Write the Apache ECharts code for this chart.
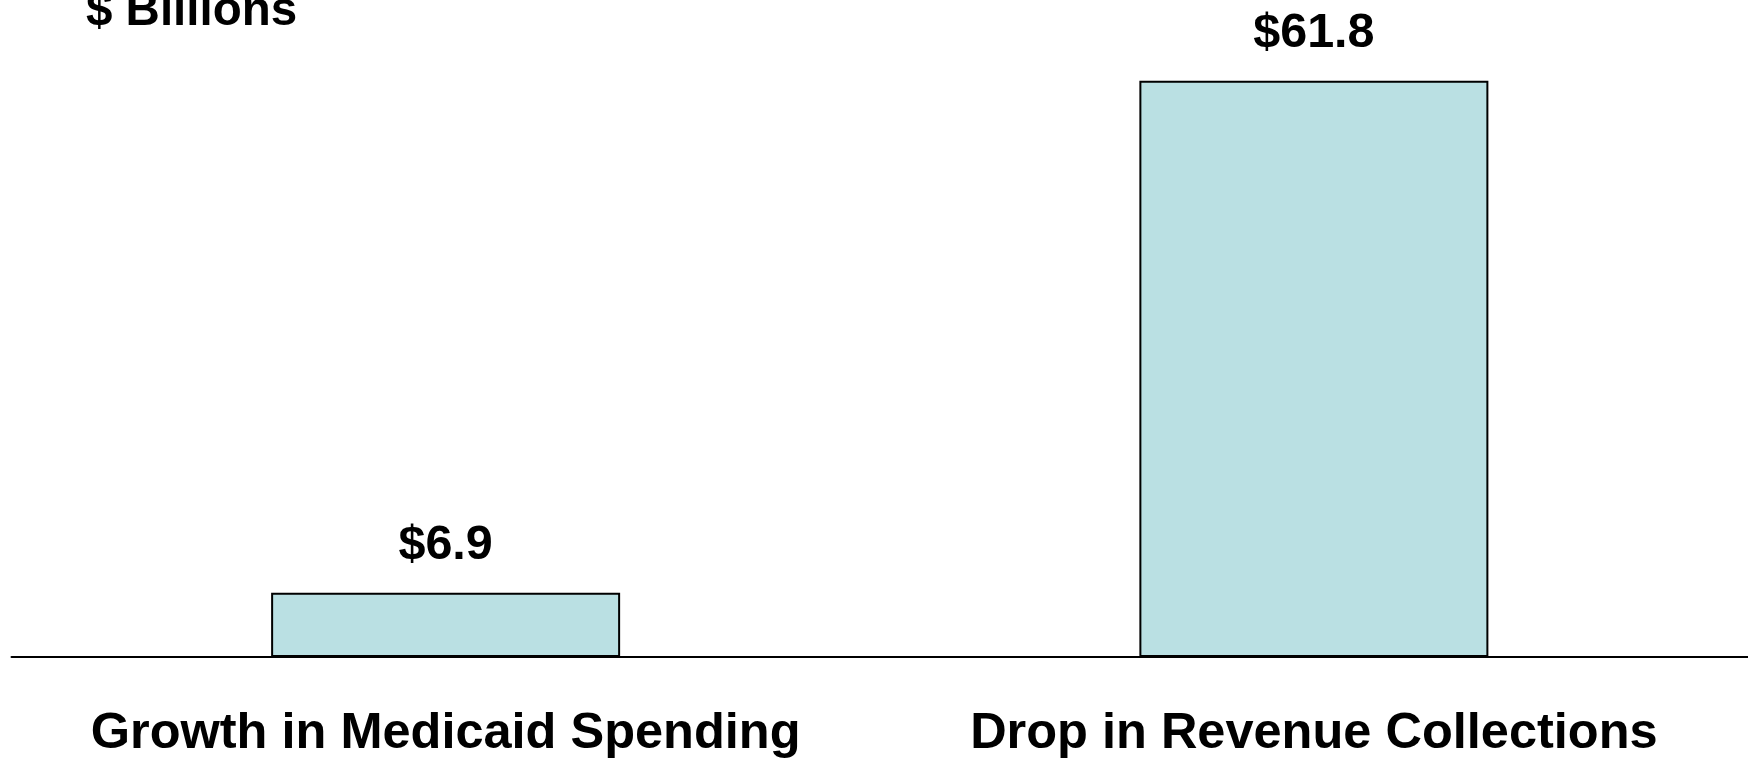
<!DOCTYPE html>
<html>
<head>
<meta charset="utf-8">
<script src="https://cdn.jsdelivr.net/npm/echarts@6/dist/echarts.min.js"></script>
<style>
  html, body { margin: 0; padding: 0; background: #ffffff; }
  #chart { width: 1748px; height: 760px; }
</style>
</head>
<body>
<div id="chart"></div>
<script>
// Budget pressure comparison, in billions of dollars
const categories = ['Growth in Medicaid Spending', 'Drop in Revenue Collections'];
const amounts = [6.9, 61.8];
const unitLabel = '$ Billions';

const FONT = '"Liberation Sans", Arial, sans-serif';

const chart = echarts.init(document.getElementById('chart'), null, { renderer: 'canvas' });

chart.setOption({
  backgroundColor: '#ffffff',
  animation: false,
  grid: { left: 11.5, width: 1739, top: 4.4, bottom: 99.5, containLabel: false },
  graphic: [{
    type: 'text',
    left: 86,
    top: -12,
    style: {
      text: unitLabel,
      font: 'bold 47.5px ' + FONT,
      fill: '#000000'
    }
  }],
  xAxis: {
    type: 'category',
    data: categories,
    axisLine: { show: true, lineStyle: { color: '#000000', width: 2 } },
    axisTick: { show: false },
    axisLabel: {
      color: '#000000',
      fontFamily: FONT,
      fontWeight: 'bold',
      fontSize: 50.5,
      margin: 52,
      interval: 0
    }
  },
  yAxis: {
    type: 'value',
    min: 0,
    max: 70,
    show: false,
    splitLine: { show: false }
  },
  series: [{
    type: 'bar',
    data: amounts,
    barWidth: 349,
    itemStyle: { color: '#bae0e3', borderColor: '#000000', borderWidth: 2 },
    label: {
      show: true,
      position: 'top',
      distance: 23,
      formatter: p => '$' + p.value.toFixed(1),
      color: '#000000',
      fontFamily: FONT,
      fontWeight: 'bold',
      fontSize: 48.5
    }
  }]
});
</script>
</body>
</html>
